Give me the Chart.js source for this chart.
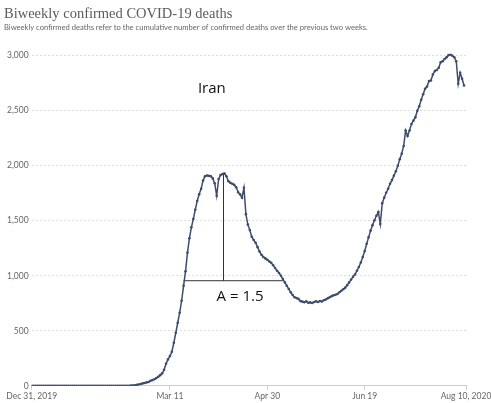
<!DOCTYPE html>
<html>
<head>
<meta charset="utf-8">
<script src="https://cdn.jsdelivr.net/npm/chart.js@4"></script>
<style>
  html, body { margin: 0; padding: 0; background: #fff; }
  #wrap { width: 491px; height: 403px; }
</style>
</head>
<body>
<div id="wrap"><canvas id="myChart"></canvas></div>
<script>
// biweekly confirmed deaths, Iran, one value per day from Dec 31, 2019
const deaths = [
  0, 0, 0, 0, 0, 0, 0, 0, 0, 0, 0, 0, 0, 0, 0, 0, 0, 0, 0, 0,
  0, 0, 0, 0, 0, 0, 0, 0, 0, 0, 0, 0, 0, 0, 0, 0, 0, 0, 0, 0,
  0, 0, 0, 0, 0, 0, 0, 0, 0, 0,
  1, 2, 3, 5, 8, 12, 16, 22, 26, 31,
  35, 45, 52, 60, 70, 82, 97, 113, 145, 200,
  240, 270, 310, 391, 482, 573, 664, 773, 909, 1040,
  1210, 1340, 1440, 1515, 1600, 1680, 1740, 1790, 1865, 1905,
  1912, 1908, 1905, 1885, 1840, 1727, 1880, 1915, 1925, 1930,
  1905, 1860, 1845, 1836, 1826, 1805, 1760, 1740, 1710, 1800,
  1560, 1465, 1415, 1355, 1325, 1300, 1260, 1220, 1190, 1170,
  1158, 1145, 1130, 1118, 1095, 1070, 1045, 1025, 1000, 970,
  940, 909, 880, 850, 825, 805, 797, 790, 770, 765,
  760, 768, 755, 758, 752, 762, 768, 762, 770, 766,
  778, 785, 795, 805, 815, 822, 827, 835, 850, 864,
  878, 892, 915, 940, 965, 990, 1012, 1045, 1080, 1120,
  1170, 1225, 1290, 1350, 1410, 1460, 1505, 1545, 1580, 1470,
  1660, 1710, 1755, 1790, 1836, 1870, 1910, 1950, 2000, 2060,
  2110, 2180, 2320, 2270, 2320, 2380, 2410, 2440, 2500, 2540,
  2600, 2650, 2700, 2720, 2770, 2775, 2830, 2860, 2870, 2890,
  2940, 2950, 2970, 2985, 3005, 3010, 3000, 2985, 2950, 2745,
  2845, 2790, 2730
];

const xTickDays = [0, 71, 121, 171, 223];
const xTickLabels = ["Dec 31, 2019", "Mar 11", "Apr 30", "Jun 19", "Aug 10, 2020"];
const yTicks = [0, 500, 1000, 1500, 2000, 2500, 3000];

// hand drawn annotation (day / deaths)
const baseLineDays = [78, 129];
const baseLineValue = 955;
const peakDay = 98.5;
const peakValue = 1936;
const countryLabel = { text: "Iran", day: 92.5, value: 2700 };
const widthLabel = { text: "A = 1.5", day: 107, value: 810 };

Chart.defaults.font.family = "Lato";

const annotationText = {
    id: "annotationText",
    afterDatasetsDraw(chart) {
        const { ctx, scales } = chart;
        ctx.save();
        ctx.fillStyle = "#111";
        ctx.font = '15px "Open Sans"';
        ctx.textAlign = "center";
        ctx.textBaseline = "middle";
        [countryLabel, widthLabel].forEach(l => {
            ctx.fillText(l.text, scales.x.getPixelForValue(l.day), scales.y.getPixelForValue(l.value));
        });
        ctx.restore();
    }
};

const lineColor = "#3e4c6b";

new Chart(document.getElementById("myChart"), {
    type: "line",
    data: {
        datasets: [
            {
                label: "Iran",
                data: deaths.map((v, i) => ({ x: i, y: v })),
                borderColor: lineColor,
                backgroundColor: lineColor,
                borderWidth: 1.5,
                pointRadius: 1.3,
                pointHoverRadius: 1.3,
                pointBorderWidth: 0,
                tension: 0,
            },
            {
                label: "base",
                data: [{ x: baseLineDays[0], y: baseLineValue }, { x: baseLineDays[1], y: baseLineValue }],
                borderColor: "#333",
                borderWidth: 1,
                pointRadius: 0,
            },
            {
                label: "peak",
                data: [{ x: peakDay, y: baseLineValue }, { x: peakDay, y: peakValue }],
                borderColor: "#333",
                borderWidth: 1,
                pointRadius: 0,
            }
        ]
    },
    options: {
        responsive: true,
        maintainAspectRatio: false,
        animation: false,
        layout: { padding: { left: 4, right: 25, top: 5, bottom: 1 } },
        plugins: {
            legend: { display: false },
            tooltip: { enabled: false },
            title: {
                display: true,
                text: "Biweekly confirmed COVID-19 deaths",
                align: "start",
                color: "#5b5b5b",
                font: { family: "Liberation Serif", size: 14.5, weight: "normal" },
                padding: { top: 0, bottom: 1 }
            },
            subtitle: {
                display: true,
                text: "Biweekly confirmed deaths refer to the cumulative number of confirmed deaths over the previous two weeks.",
                align: "start",
                color: "#666",
                font: { size: 7.6 },
                padding: { top: 0, bottom: 21 }
            }
        },
        scales: {
            x: {
                type: "linear",
                min: 0,
                max: 223,
                afterBuildTicks: s => { s.ticks = xTickDays.map(v => ({ value: v })); },
                afterFit: s => { s.paddingLeft = 0; s.paddingRight = 0; },
                ticks: {
                    color: "#666",
                    font: { size: 8.5 },
                    padding: 1,
                    maxRotation: 0,
                    autoSkip: false,
                    callback: v => xTickLabels[xTickDays.indexOf(v)]
                },
                grid: { drawOnChartArea: false, drawTicks: true, tickLength: 4, color: "#ccc" },
                border: { display: true, color: "#ccc" }
            },
            y: {
                min: 0,
                max: 3020,
                afterBuildTicks: s => { s.ticks = yTicks.map(v => ({ value: v })); },
                ticks: {
                    color: "#666",
                    font: { size: 8.5 },
                    padding: 3,
                    callback: v => v.toLocaleString("en-US")
                },
                grid: { drawTicks: false, color: "#ddd" },
                border: { display: false, dash: [2, 2] }
            }
        }
    },
    plugins: [annotationText]
});
</script>
</body>
</html>
